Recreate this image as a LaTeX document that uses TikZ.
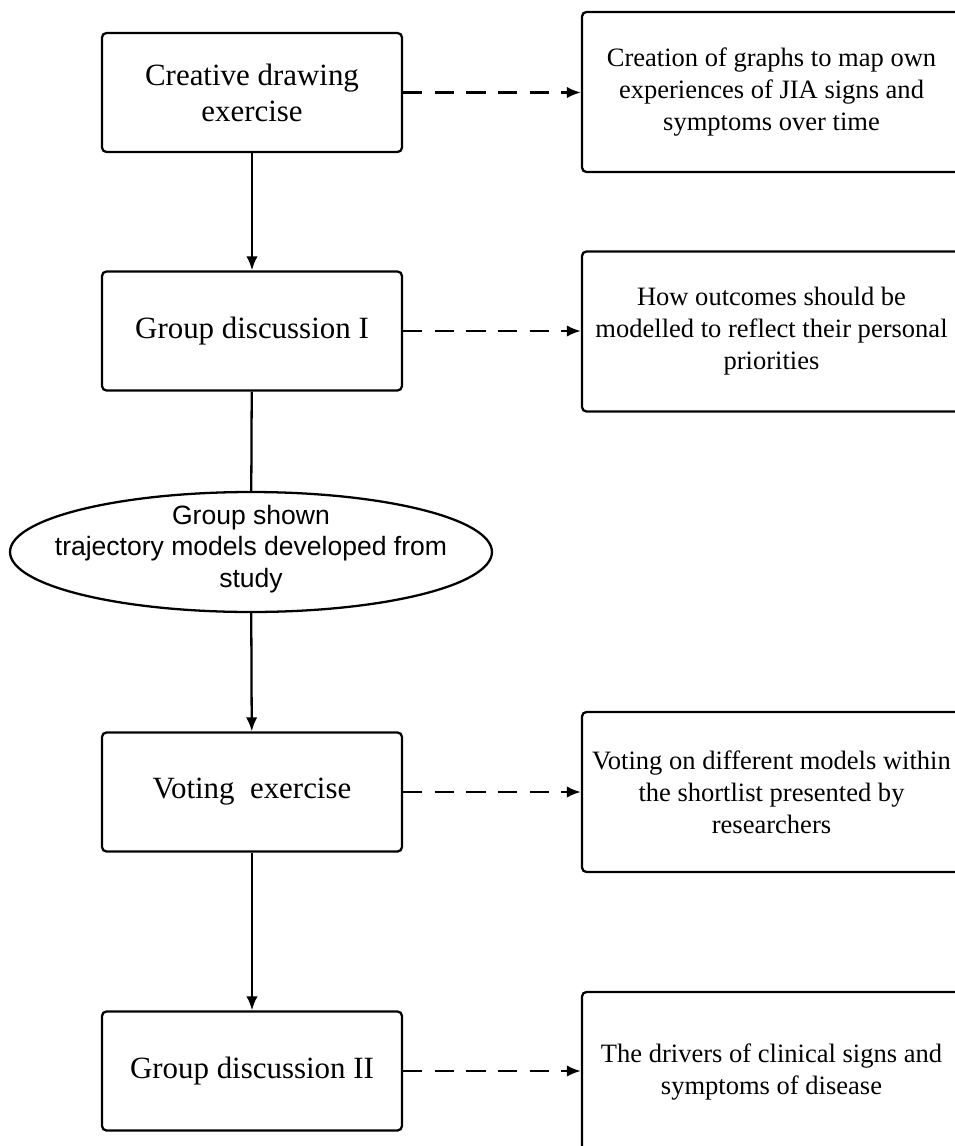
\documentclass[tikz,border=0pt]{standalone}
\usepackage{fontspec}
\setmainfont{Liberation Serif}
\setsansfont{Liberation Sans}
\usetikzlibrary{arrows.meta}
\usetikzlibrary{shapes.geometric}
\tikzset{stage/.style = {draw, rounded corners = 2.5, line width = 1.3pt,
                         minimum width = 6cm, minimum height = 2.38cm,
                         align = center, font = \fontsize{17.6}{20.5}\selectfont}}
\tikzset{note/.style = {draw, rounded corners = 2.5, line width = 1.3pt,
                        minimum width = 7.58cm, minimum height = 3.2cm,
                        align = center, font = \fontsize{15.1}{18.2}\selectfont}}
\tikzset{oval/.style = {draw, ellipse, line width = 1.3pt, inner sep = 0,
                        minimum width = 9.64cm, minimum height = 2.4cm}}
\tikzset{ovaltext/.style = {align = center, font = \sffamily\fontsize{15.1}{18.1}\selectfont}}
\tikzset{dashlink/.style = {->, dash pattern = on 11pt off 7pt}}

\begin{document}
\begin{tikzpicture}[x = 0.02cm, y = -0.02cm, >={Latex[length=8pt, width=6.5pt]}, line width = 1.3pt]
    \useasboundingbox (0, 0) rectangle (954, 1146);

    \node [stage] (drawing) at (252, 92.5) {Creative drawing\\exercise};
    \node [stage] (discOne) at (252, 331) {Group discussion I};
    \node [oval] (shown) at (251, 552) {};
    \node [ovaltext] (shownText) at (251, 549) {Group shown\\trajectory models developed from\\study};
    \node [stage] (voting) at (252, 792) {Voting\ \ exercise};
    \node [stage] (discTwo) at (252, 1071) {Group discussion II};

    \node [note] (graphs) at (771.5, 92) {Creation of graphs to map own\\experiences of JIA signs and\\symptoms over time};
    \node [note] (priorities) at (771.5, 331.5) {How outcomes should be\\modelled to reflect their personal\\priorities};
    \node [note] (shortlist) at (771.5, 792) {Voting on different models within\\the shortlist presented by\\researchers};
    \node [note] (drivers) at (771.5, 1072) {The drivers of clinical signs and\\symptoms of disease};

    \draw [->] (drawing) -- (discOne);
    \draw (discOne) -- (shown);
    \draw [->] (shown) -- (voting);
    \draw [->] (voting) -- (discTwo);

    \draw [dashlink] (drawing.east) -- (drawing.east -| graphs.west);
    \draw [dashlink] (discOne.east) -- (discOne.east -| priorities.west);
    \draw [dashlink] (voting.east) -- (voting.east -| shortlist.west);
    \draw [dashlink] (discTwo.east) -- (discTwo.east -| drivers.west);
\end{tikzpicture}
\end{document}
